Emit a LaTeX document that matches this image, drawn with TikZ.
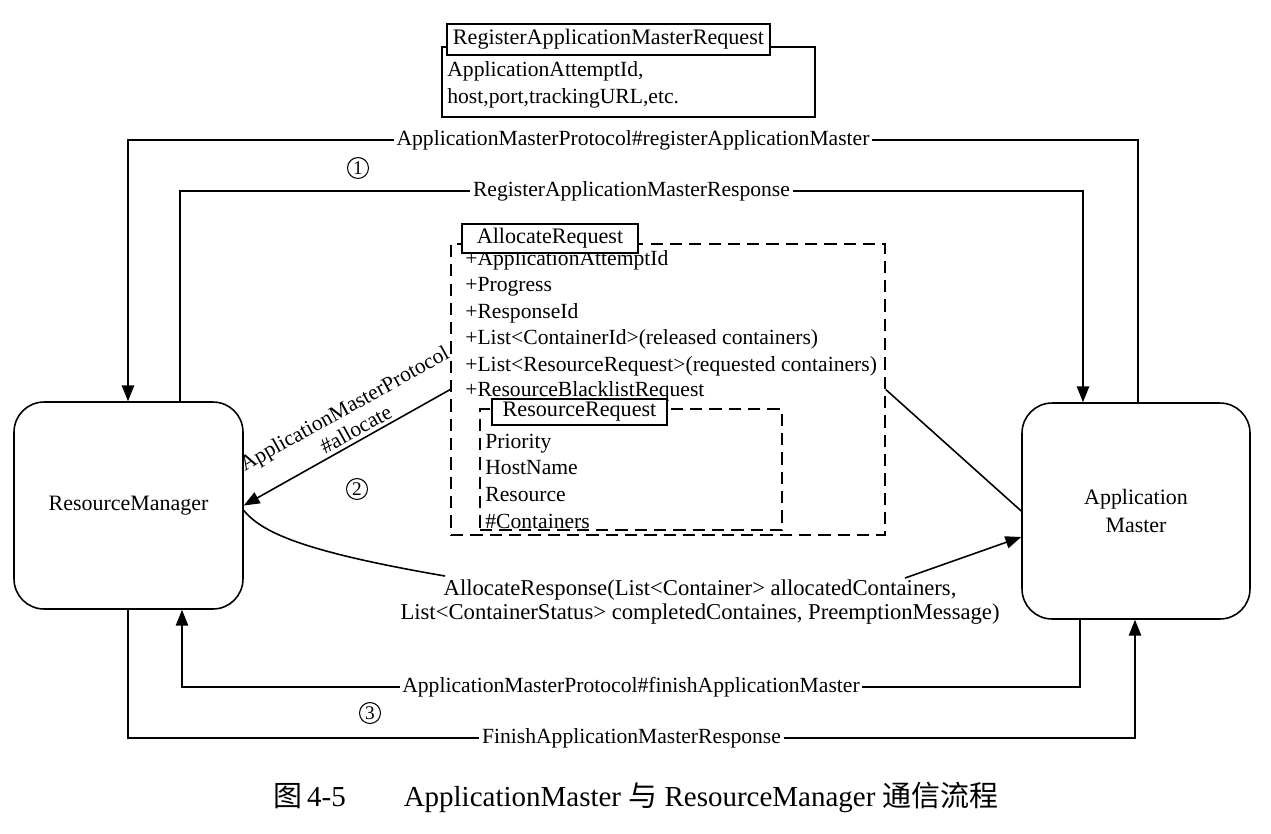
\documentclass[tikz,border=0pt]{standalone}
\usepackage{fontspec}
\setmainfont{Liberation Serif}
\newfontfamily\cjk{Noto Sans CJK SC}
\usetikzlibrary{arrows.meta}
\begin{document}
\begin{tikzpicture}[x=0.02cm,y=-0.02cm,
  font=\fontsize{12.3}{15}\selectfont,
  mbox/.style={draw, line width=0.9pt, rounded corners=0.6cm, align=center, font=\fontsize{12.5}{16}\selectfont},
  tbox/.style={draw, line width=1.1pt, fill=white, inner sep=0pt, font=\fontsize{12.6}{15}\selectfont},
  lab/.style={fill=white, inner sep=1.5pt},
  txt/.style={anchor=base west, inner sep=0pt},
  conn/.style={line width=0.9pt},
  arr/.style={conn, -{Triangle[length=9pt,width=7pt]}},
  dbox/.style={draw, line width=0.9pt, dash pattern=on 7pt off 4pt, inner sep=0pt},
  circnum/.style={circle, draw, line width=0.6pt, inner sep=0pt, minimum size=0.42cm, font=\fontsize{11}{11}\selectfont}
]
\useasboundingbox (0,0) rectangle (1271,833);

% main boxes
\node[mbox, minimum width=4.58cm, minimum height=4.14cm] (rm) at (128.5,505.5) {ResourceManager};
\node[mbox, minimum width=4.56cm, minimum height=4.32cm] (am) at (1136,511) {Application\\Master};

% RegisterApplicationMasterRequest box
\node[draw, line width=0.9pt, inner sep=0pt, minimum width=7.46cm, minimum height=1.4cm] (regbox) at (628.5,82) {};
\node[tbox, minimum width=6.46cm, minimum height=0.62cm] (regt) at (608.5,39.5) {RegisterApplicationMasterRequest};
\node[txt] (reg1) at (447,76) {ApplicationAttemptId,};
\node[txt] (reg2) at (447,103) {host,port,trackingURL,etc.};

% AllocateRequest box
\node[dbox, minimum width=8.68cm, minimum height=5.82cm] (alloc) at (668,389.5) {};
\node[txt] (al1) at (465,265) {+ApplicationAttemptId};
\node[txt] (al2) at (465,291) {+Progress};
\node[txt] (al3) at (465,318) {+ResponseId};
\node[txt] (al4) at (465,344) {+List<ContainerId>(released containers)};
\node[txt] (al5) at (465,371) {+List<ResourceRequest>(requested containers)};
\node[txt] (al6) at (465,396) {+ResourceBlacklistRequest};
\node[tbox, minimum width=3.52cm, minimum height=0.58cm] (allt) at (550,238.5) {AllocateRequest};

% ResourceRequest box
\node[dbox, minimum width=6.04cm, minimum height=2.42cm] (rr) at (631,469.5) {};
\node[txt] (rr1) at (485,448) {Priority};
\node[txt] (rr2) at (485,474) {HostName};
\node[txt] (rr3) at (485,501) {Resource};
\node[txt] (rr4) at (485,528) {\#Containers};
\node[tbox, minimum width=3.5cm, minimum height=0.52cm] (rrt) at (579.5,412) {ResourceRequest};

% (1) register
\coordinate (regA) at (1138,140);
\coordinate (regB) at (128,140);
\draw[arr] (am.north -| regA) -- (regA) -- node[lab] (l1) {ApplicationMasterProtocol\#registerApplicationMaster} (regB) -- (rm.north -| regB);
\coordinate (resA) at (180,191);
\coordinate (resB) at (1083,191);
\draw[arr] (rm.north -| resA) -- (resA) -- node[lab] (l2) {RegisterApplicationMasterResponse} (resB) -- (am.north -| resB);
\node[circnum] (n1) at (358,168) {1};

% (2) allocate
\draw[arr] (alloc.west) -- node[pos=0.43, rotate=29, anchor=south, align=center, inner sep=2pt, font=\fontsize{12.3}{13.5}\selectfont] (alab) {ApplicationMasterProtocol\\\#allocate} (rm.east);
\draw[conn] (alloc.east) -- (am.west);
\node[circnum] (n2) at (357,489) {2};
\node[align=center, inner sep=0pt, font=\fontsize{12.9}{14}\selectfont] (ar) at (700,602) {AllocateResponse(List<Container> allocatedContainers,\\List<ContainerStatus> completedContaines, PreemptionMessage)};
\coordinate (c1) at (445,576);
\coordinate (c2) at (905,578);
\draw[conn] ([yshift=-0.1cm]rm.east) .. controls (262,532) and (300,551) .. (c1);
\draw[arr] (c2) -- ([yshift=-0.52cm]am.west);

% (3) finish
\coordinate (finA) at (1080,687);
\coordinate (finB) at (182,687);
\draw[arr] (am.south -| finA) -- (finA) -- node[lab] (l3) {ApplicationMasterProtocol\#finishApplicationMaster} (finB) -- (rm.south -| finB);
\coordinate (frA) at (128,738);
\coordinate (frB) at (1135,738);
\draw[arr] (rm.south -| frA) -- (frA) -- node[lab] (l4) {FinishApplicationMasterResponse} (frB) -- (am.south -| frB);
\node[circnum] (n3) at (370,713) {3};

% caption
\node[font=\fontsize{16.5}{19}\selectfont] (cap) at (636,797) {{\cjk 图}\,4-5\hspace{2em}ApplicationMaster {\cjk 与} ResourceManager {\cjk 通信流程}};
\end{tikzpicture}
\end{document}
